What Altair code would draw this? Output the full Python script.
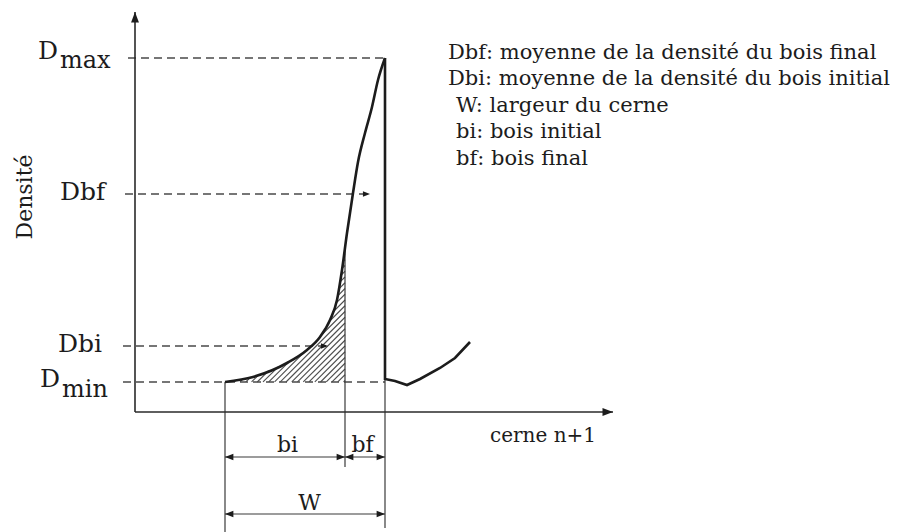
import altair as alt
import numpy as np
import pandas as pd

# Density profile across one growth ring and the start of the next one
# (position in arbitrary width units, density in arbitrary units)
ring_x = [18.0, 23.6, 30.4, 34.4, 37.0, 39.0, 40.4, 41.4, 42.4, 43.6, 44.6,
          46.0, 47.4, 48.6, 50.0]
ring_y = [0.075, 0.0875, 0.1225, 0.155, 0.1875, 0.23, 0.28, 0.355, 0.4475,
          0.5475, 0.625, 0.6975, 0.7625, 0.83, 0.885]
next_x = [50.0, 50.0, 52.0, 54.4, 57.0, 61.0, 64.0, 67.0]
next_y = [0.885, 0.0825, 0.0775, 0.0675, 0.0825, 0.11, 0.135, 0.175]

# Reference densities and ring boundaries
d_levels = {"Dmax": 0.885, "Dbf": 0.545, "Dbi": 0.165, "Dmin": 0.075}
x_start, x_transition, x_end = 18.0, 42.0, 50.0
x_axis_end, y_axis_end = 95.6, 1.0

# Legend lines
legend_lines = ["Dbf: moyenne de la densité du bois final",
                "Dbi: moyenne de la densité du bois initial",
                "W: largeur du cerne",
                "bi: bois initial",
                "bf: bois final"]
legend_x = [62.6, 62.6, 64.2, 64.2, 64.2]
legend_y = [0.8825, 0.8175, 0.75, 0.685, 0.6175]

FONT = "DejaVu Serif"
INK = "#1c1c1c"
X = alt.Scale(domain=[-27, 153.2], nice=False, zero=False)
Y = alt.Scale(domain=[-0.3, 1.03], nice=False, zero=False)


def segs(rows):
    return pd.DataFrame(rows, columns=["x", "y", "x2", "y2"])


def rule(df, width=1.5, color=INK, dash=None):
    kw = dict(strokeWidth=width, color=color)
    if dash:
        kw["strokeDash"] = dash
    return alt.Chart(df).mark_rule(**kw).encode(
        x=alt.X("x:Q", scale=X, axis=None),
        y=alt.Y("y:Q", scale=Y, axis=None),
        x2="x2:Q", y2="y2:Q")


curve_at = lambda v: float(np.interp(v, ring_x, ring_y))

# Axes
axes = rule(segs([[0, 0, 0, y_axis_end], [0, 0, x_axis_end, 0]]), 1.6, "#2a2a2a")

# Dashed reference levels
dashed = rule(segs([
    [-1.4, d_levels["Dmax"], x_end, d_levels["Dmax"]],
    [-2.0, d_levels["Dbf"], 47.0, d_levels["Dbf"]],
    [-2.4, d_levels["Dbi"], 38.6, d_levels["Dbi"]],
    [-2.4, d_levels["Dmin"], x_end, d_levels["Dmin"]],
]), 1.5, "#4a4a4a", [8, 5])

# Boundary and dimension lines
dim_bi, dim_w = -0.1125, -0.255
guides = rule(segs([
    [x_start, d_levels["Dmin"], x_start, -0.3],
    [x_transition, curve_at(x_transition), x_transition, -0.1375],
    [x_end, next_y[1], x_end, -0.29],
    [x_start, dim_bi, x_end, dim_bi],
    [x_start, dim_w, x_end, dim_w],
]), 1.2, "#3a3a3a")

# Hatching (45° lines) clipped to the earlywood area under the profile
SLOPE = 1 / 80.0          # a 45° line in this x/y scaling
STEP = 1.15
fine = np.linspace(x_start, x_transition, 1500)
limit = np.interp(fine, ring_x, ring_y)
hatch_rows = []
for xs in np.arange(x_transition - 0.3, x_start - 30, -STEP):
    ly = d_levels["Dmin"] + (fine - xs) * SLOPE
    inside = (ly >= d_levels["Dmin"]) & (ly <= limit)
    if not inside.any():
        continue
    edges = np.diff(np.concatenate([[0], inside.astype(int), [0]]))
    starts, ends = np.nonzero(edges == 1)[0], np.nonzero(edges == -1)[0] - 1
    for a, b in zip(starts, ends):
        if b > a:
            hatch_rows.append([fine[a], ly[a], fine[b], ly[b]])
hatch = rule(segs(hatch_rows), 1.1, "#4d4d4d")

rise = pd.DataFrame({"x": ring_x, "y": ring_y})
fall = pd.DataFrame({"x": next_x, "y": next_y, "seq": list(range(len(next_x)))})
curve_rise = alt.Chart(rise).mark_line(
    strokeWidth=2.6, color=INK, interpolate="monotone").encode(
    x=alt.X("x:Q", scale=X, axis=None),
    y=alt.Y("y:Q", scale=Y, axis=None))
curve_fall = alt.Chart(fall).mark_line(strokeWidth=2.6, color=INK).encode(
    x=alt.X("x:Q", scale=X, axis=None),
    y=alt.Y("y:Q", scale=Y, axis=None),
    order="seq:Q")

# Arrow heads (tip at the anchor point, rotated by angle)
ARROW = "M0,0L-2,-0.75L-2,0.75Z"
heads = pd.DataFrame([
    [x_start, dim_bi, 180, 70], [x_transition, dim_bi, 0, 70],
    [x_transition, dim_bi, 180, 70], [x_end, dim_bi, 0, 70],
    [x_start, dim_w, 180, 70], [x_end, dim_w, 0, 70],
    [47.0, d_levels["Dbf"], 0, 50], [38.6, d_levels["Dbi"], 0, 50],
    [0, y_axis_end, 270, 110], [x_axis_end, 0, 0, 110],
], columns=["x", "y", "angle", "size"])
arrows = alt.Chart(heads).mark_point(shape=ARROW, filled=True, color=INK, opacity=1).encode(
    x=alt.X("x:Q", scale=X, axis=None),
    y=alt.Y("y:Q", scale=Y, axis=None),
    angle=alt.Angle("angle:Q", scale=None),
    size=alt.Size("size:Q", scale=None))


def text(df, size, align="left", angle=0, baseline="alphabetic"):
    return alt.Chart(df).mark_text(font=FONT, fontSize=size, align=align,
                                   baseline=baseline, angle=angle, color=INK).encode(
        x=alt.X("x:Q", scale=X, axis=None),
        y=alt.Y("y:Q", scale=Y, axis=None),
        text="t:N")


tdf = lambda rows: pd.DataFrame(rows, columns=["t", "x", "y"])

big_labels = text(tdf([["D", -19.4, 0.8825], ["Dbf", -15.0, 0.53],
                       ["Dbi", -15.4, 0.15], ["D", -19.0, 0.0625]]), 25)
subs = text(tdf([["max", -15.0, 0.86], ["min", -14.6, 0.0375]]), 24)
ylab = text(tdf([["Densité", -22.0, 0.5375]]), 22, "center", 270, "middle")
xlab = text(tdf([["cerne n+1", 71.0, -0.074]]), 20)
dims = text(tdf([["bi", 30.5, -0.1], ["bf", 45.5, -0.1], ["W", 34.9, -0.245]]), 22, "center")
legend = text(pd.DataFrame({"t": legend_lines, "x": legend_x, "y": legend_y}), 21)

chart = alt.layer(
    hatch, dashed, guides, axes, curve_rise, curve_fall, arrows,
    big_labels, subs, ylab, xlab, dims, legend,
).properties(width=901, height=532, padding=0, autosize="none",
             background="white").configure_view(stroke=None)

chart.save("out.html", embed_options={"renderer": "svg", "actions": False})
